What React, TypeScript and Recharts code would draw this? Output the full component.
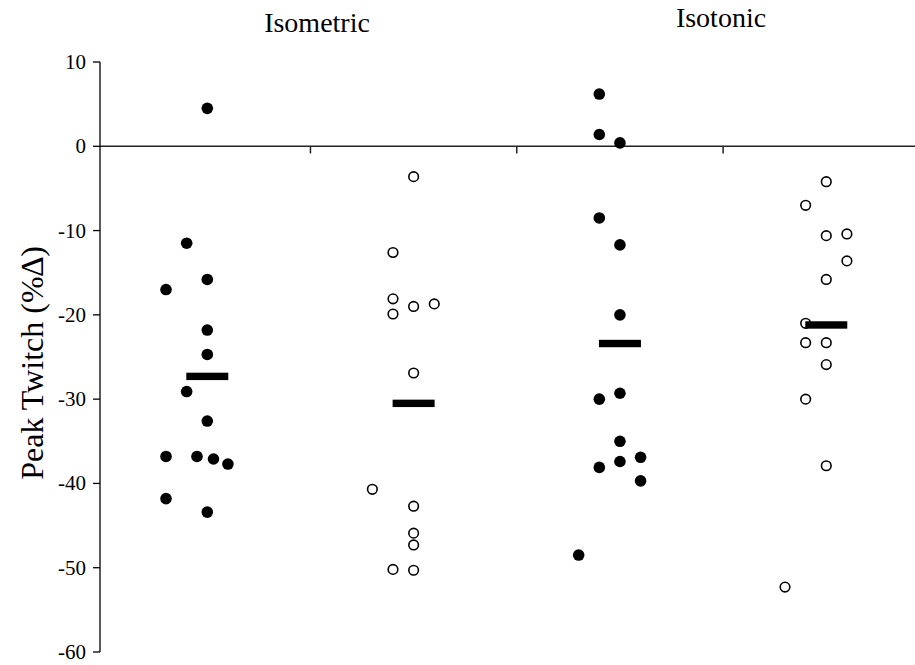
import React from 'react';
import { ScatterChart, Scatter, XAxis, YAxis, ReferenceLine, Label } from 'recharts';

// ---- data ----
const conditionTitles = ['Isometric', 'Isotonic'];
const yAxisTitle = 'Peak Twitch (%∆)';
const yTicks = [10, 0, -10, -20, -30, -40, -50, -60];

// Isometric, filled markers
const isoFilledY = [4.5, -11.5, -17.0, -15.8, -21.8, -24.7, -29.1, -32.6, -36.8, -36.8, -37.1, -37.7, -41.8, -43.4];
const isoFilledJitter = [0, -0.1, -0.2, 0, 0, 0, -0.1, 0, -0.2, -0.05, 0.03, 0.1, -0.2, 0];

// Isometric, open markers
const isoOpenY = [-3.6, -12.6, -18.1, -19.9, -19.0, -18.7, -26.9, -40.7, -42.7, -45.9, -47.3, -50.2, -50.3];
const isoOpenJitter = [0, -0.1, -0.1, -0.1, 0, 0.1, 0, -0.2, 0, 0, 0, -0.1, 0];

// Isotonic, filled markers
const tonFilledY = [6.2, 1.4, 0.4, -8.5, -11.7, -20.0, -30.0, -29.3, -35.0, -38.1, -37.4, -36.9, -39.7, -48.5];
const tonFilledJitter = [-0.1, -0.1, 0, -0.1, 0, 0, -0.1, 0, 0, -0.1, 0, 0.1, 0.1, -0.2];

// Isotonic, open markers
const tonOpenY = [-4.2, -7.0, -10.6, -10.4, -13.6, -15.8, -21.0, -23.3, -23.3, -25.9, -30.0, -37.9, -52.3];
const tonOpenJitter = [0, -0.1, 0, 0.1, 0.1, 0, -0.1, -0.1, 0, 0, -0.1, 0, -0.2];

// Group means (horizontal bars)
const groupMeans = [-27.3, -30.5, -23.4, -21.2];

const groupBoundaries = [1, 2, 3];

const build = (ys: number[], jit: number[], groupIndex: number) =>
  ys.map((y, i) => ({ x: groupIndex + 0.5 + jit[i], y }));

const dataIsoFilled = build(isoFilledY, isoFilledJitter, 0);
const dataIsoOpen = build(isoOpenY, isoOpenJitter, 1);
const dataTonFilled = build(tonFilledY, tonFilledJitter, 2);
const dataTonOpen = build(tonOpenY, tonOpenJitter, 3);
const dataMeans = groupMeans.map((y, i) => ({ x: i + 0.5, y }));

const FONT = '"Liberation Serif", "Times New Roman", Times, serif';

const FilledDot = (props: any) => {
  const { cx, cy } = props;
  if (cx == null || cy == null) return null;
  return <circle cx={cx} cy={cy} r={5.8} fill="#000" />;
};
const OpenDot = (props: any) => {
  const { cx, cy } = props;
  if (cx == null || cy == null) return null;
  return <circle cx={cx} cy={cy} r={4.8} fill="#fff" stroke="#000" strokeWidth={1.6} />;
};
const MeanBar = (props: any) => {
  const { cx, cy } = props;
  if (cx == null || cy == null) return null;
  return <rect x={cx - 21} y={cy - 3.7} width={42} height={7.4} fill="#000" />;
};

const YTick = (props: any) => {
  const { x, y, payload } = props;
  return (
    <text x={x} y={y} dy={7} textAnchor="end" style={{ fontFamily: FONT, fontSize: 21, fill: '#000' }}>
      {payload.value}
    </text>
  );
};

const YTitle = (props: any) => {
  const vb = props.viewBox || {};
  const cy = (vb.y ?? 62) + (vb.height ?? 590) / 2 + 6;
  const cx = 32;
  return (
    <text
      x={cx}
      y={cy}
      transform={`rotate(-90 ${cx} ${cy})`}
      textAnchor="middle"
      dominantBaseline="central"
      style={{ fontFamily: FONT, fontSize: 32, fill: '#000' }}
    >
      {yAxisTitle}
    </text>
  );
};

export default function App() {
  return (
    <div style={{ position: 'absolute', left: 0, top: 0, width: 915, height: 665, background: '#fff' }}>
      <ScatterChart width={915} height={665} margin={{ top: 62, right: 0, bottom: 13, left: 0 }}>
        <XAxis type="number" dataKey="x" domain={[-0.02, 3.93]} hide allowDataOverflow />
        <YAxis
          type="number"
          dataKey="y"
          domain={[-60, 10]}
          ticks={yTicks}
          interval={0}
          width={100}
          tickSize={7}
          tickMargin={7}
          axisLine={{ stroke: '#000', strokeWidth: 1.3 }}
          tickLine={{ stroke: '#000', strokeWidth: 1.3 }}
          tick={<YTick />}
          allowDataOverflow
        >
          <Label content={<YTitle />} />
        </YAxis>
        <ReferenceLine y={0} stroke="#222" strokeWidth={1.6} />
        {groupBoundaries.map((b) => (
          <ReferenceLine key={b} segment={[{ x: b, y: 0 }, { x: b, y: -0.85 }]} stroke="#222" strokeWidth={1.5} />
        ))}
        <Scatter data={dataIsoFilled} shape={<FilledDot />} isAnimationActive={false} />
        <Scatter data={dataIsoOpen} shape={<OpenDot />} isAnimationActive={false} />
        <Scatter data={dataTonFilled} shape={<FilledDot />} isAnimationActive={false} />
        <Scatter data={dataTonOpen} shape={<OpenDot />} isAnimationActive={false} />
        <Scatter data={dataMeans} shape={<MeanBar />} isAnimationActive={false} />
      </ScatterChart>
      <svg width={915} height={60} style={{ position: 'absolute', left: 0, top: 0 }}>
        <text x={317} y={32} textAnchor="middle" style={{ fontFamily: FONT, fontSize: 28, fill: '#000' }}>
          {conditionTitles[0]}
        </text>
        <text x={721} y={27} textAnchor="middle" style={{ fontFamily: FONT, fontSize: 28, fill: '#000' }}>
          {conditionTitles[1]}
        </text>
      </svg>
    </div>
  );
}
